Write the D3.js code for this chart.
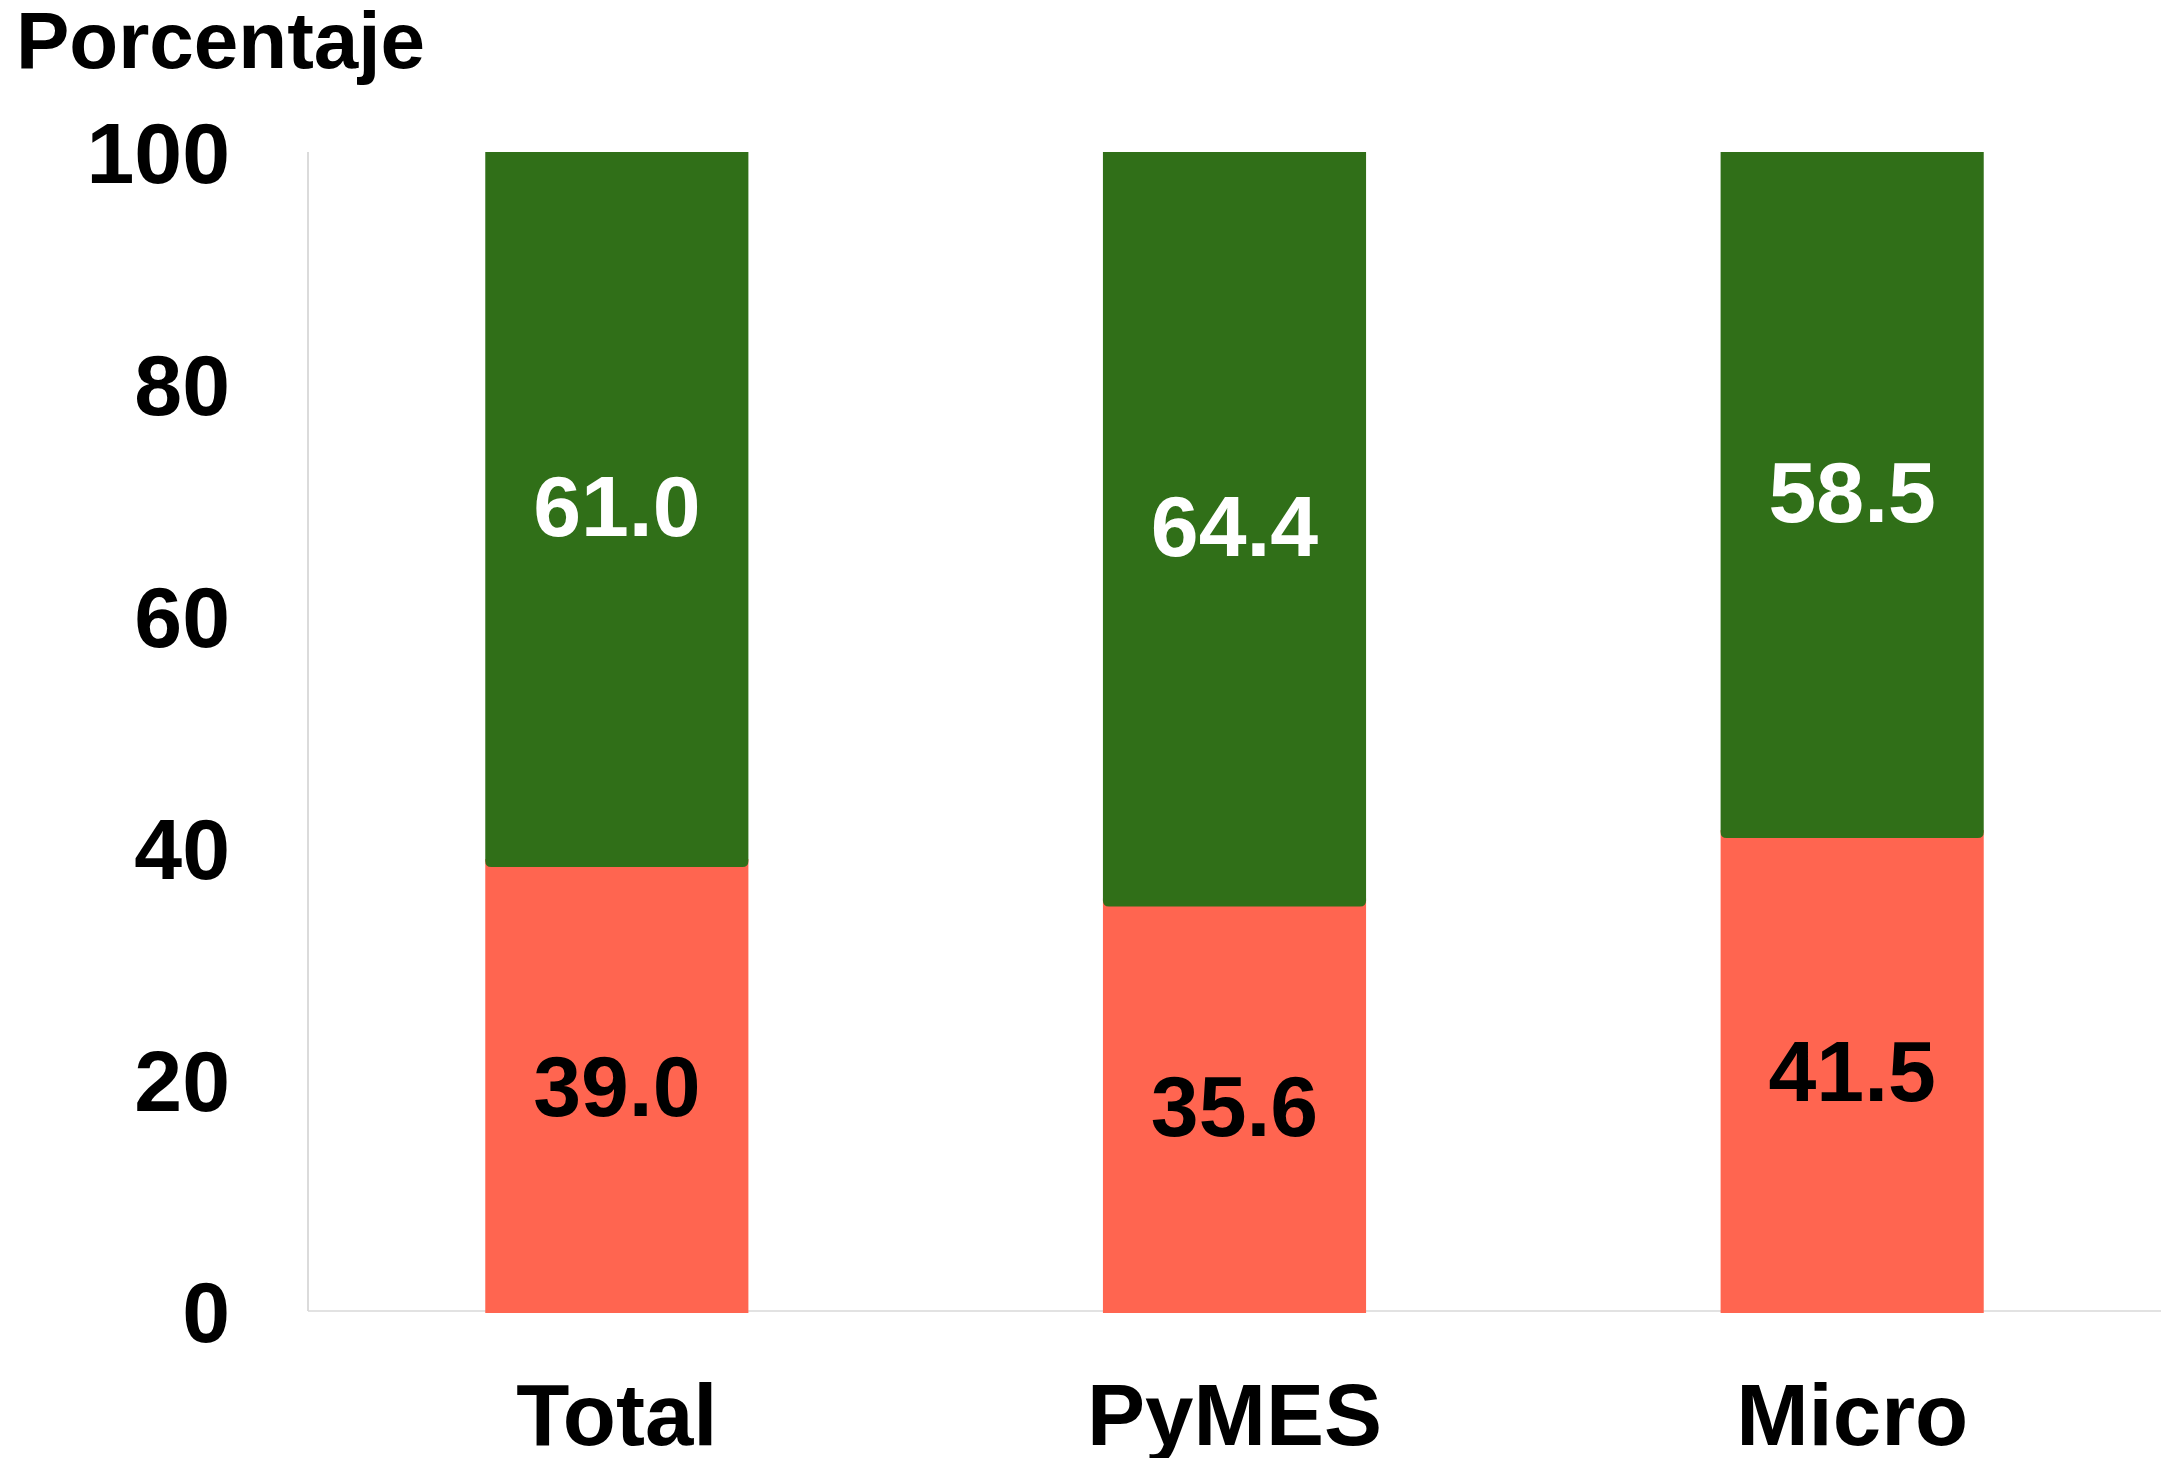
<!DOCTYPE html>
<html>
<head>
<meta charset="utf-8">
<script src="https://cdn.jsdelivr.net/npm/d3@7"></script>
<style>
  body { margin: 0; background: #fff; }
  text { font-family: "Liberation Sans", Arial, sans-serif; font-weight: bold; }
</style>
</head>
<body>
<div id="vis"></div>
<script>
const categorias = ["Total", "PyMES", "Micro"];
const valoresRojo = [39.0, 35.6, 41.5];
const valoresVerde = [61.0, 64.4, 58.5];
const ticksY = [0, 20, 40, 60, 80, 100];

const WIDTH = 2161;
const HEIGHT = 1458;
const margin = { top: 152, bottom: 147, left: 308, right: 0 };

const SVG = d3.select("#vis").append("svg")
  .attr("width", WIDTH).attr("height", HEIGHT);

const escalaX = d3.scaleBand()
  .domain(categorias)
  .range([margin.left, WIDTH - margin.right])
  .paddingInner(0.574)
  .paddingOuter(0.287);

const escalaY = d3.scaleLinear()
  .domain([0, 100])
  .range([HEIGHT - margin.bottom, margin.top]);

const datos = categorias.map((c, i) => ({ cat: c, rojo: valoresRojo[i], verde: valoresVerde[i] }));

// ejes
SVG.append("line")
  .attr("x1", margin.left).attr("x2", margin.left)
  .attr("y1", escalaY(100)).attr("y2", escalaY(0))
  .attr("stroke", "#cfcfcf").attr("stroke-width", 1.5);

SVG.append("line")
  .attr("x1", margin.left).attr("x2", WIDTH)
  .attr("y1", escalaY(0)).attr("y2", escalaY(0))
  .attr("stroke", "#d9d9d9").attr("stroke-width", 1.5);

const ejeY = d3.axisLeft(escalaY).tickValues(ticksY).tickSize(0).tickPadding(78);
const gY = SVG.append("g")
  .attr("transform", `translate(${margin.left}, 0)`)
  .call(ejeY);
gY.select(".domain").remove();
gY.selectAll("text")
  .attr("font-size", 86)
  .attr("font-family", "Liberation Sans, Arial, sans-serif")
  .attr("font-weight", "bold")
  .attr("fill", "#000")
  .attr("dy", "0.36em");

const ejeX = d3.axisBottom(escalaX).tickSize(0).tickPadding(72);
const gX = SVG.append("g")
  .attr("transform", `translate(0, ${escalaY(0)})`)
  .call(ejeX);
gX.select(".domain").remove();
gX.selectAll("text")
  .attr("font-size", 87)
  .attr("font-family", "Liberation Sans, Arial, sans-serif")
  .attr("font-weight", "bold")
  .attr("fill", "#000")
  .attr("dy", "0.71em");

// barras rojas
SVG.selectAll(".rojo")
  .data(datos).join("rect")
  .attr("class", "rojo")
  .attr("x", d => escalaX(d.cat))
  .attr("width", escalaX.bandwidth())
  .attr("y", d => escalaY(d.rojo))
  .attr("height", d => escalaY(0) - escalaY(d.rojo) + 2)
  .attr("fill", "#FF6550");

// barras verdes, esquinas inferiores redondeadas que tapan un poco la roja
const r = 6;
const solape = 8;
SVG.selectAll(".verde")
  .data(datos).join("path")
  .attr("class", "verde")
  .attr("fill", "#306F18")
  .attr("d", d => {
    const x0 = escalaX(d.cat), x1 = x0 + escalaX.bandwidth();
    const y0 = escalaY(d.rojo + d.verde), y1 = escalaY(d.rojo) + solape;
    const p = d3.path();
    p.moveTo(x0, y0);
    p.lineTo(x1, y0);
    p.lineTo(x1, y1 - r);
    p.quadraticCurveTo(x1, y1, x1 - r, y1);
    p.lineTo(x0 + r, y1);
    p.quadraticCurveTo(x0, y1, x0, y1 - r);
    p.closePath();
    return p.toString();
  });

// etiquetas
SVG.selectAll(".lab-rojo")
  .data(datos).join("text")
  .attr("class", "lab-rojo")
  .attr("x", d => escalaX(d.cat) + escalaX.bandwidth() / 2)
  .attr("y", d => (escalaY(0) + escalaY(d.rojo)) / 2)
  .attr("dy", "0.36em")
  .attr("text-anchor", "middle")
  .attr("font-size", 86)
  .attr("fill", "#000")
  .text(d => d.rojo.toFixed(1));

SVG.selectAll(".lab-verde")
  .data(datos).join("text")
  .attr("class", "lab-verde")
  .attr("x", d => escalaX(d.cat) + escalaX.bandwidth() / 2)
  .attr("y", d => (escalaY(d.rojo) + escalaY(d.rojo + d.verde)) / 2)
  .attr("dy", "0.36em")
  .attr("text-anchor", "middle")
  .attr("font-size", 86)
  .attr("fill", "#fff")
  .text(d => d.verde.toFixed(1));

SVG.append("text")
  .attr("x", 16)
  .attr("y", 68)
  .attr("font-size", 80)
  .attr("fill", "#000")
  .text("Porcentaje");
</script>
</body>
</html>
